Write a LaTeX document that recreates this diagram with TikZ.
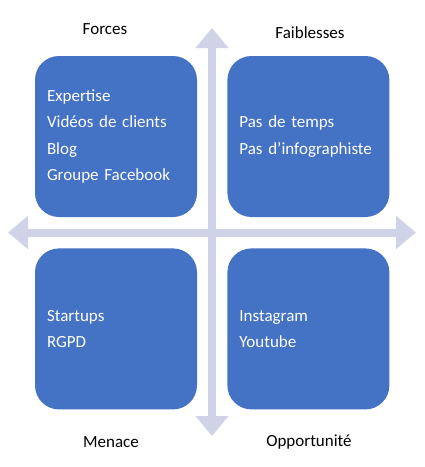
\documentclass[tikz,border=0pt]{standalone}
\usepackage{fontspec}
\setmainfont{Carlito}
\usepackage{xcolor}
\usetikzlibrary{positioning,arrows.meta}
\definecolor{boxblue}{RGB}{68,114,196}
\definecolor{axisgray}{RGB}{208,211,232}

\begin{document}
\begin{tikzpicture}[
    x=1pt, y=-1pt,
    box/.style={rectangle, rounded corners=24pt, fill=boxblue, text=white, minimum width=162pt, minimum height=161pt, text width=138pt, inner xsep=12pt, align=left, font=\fontsize{17}{26.5}\selectfont},
    title/.style={font=\fontsize{17}{20}\selectfont},
    axis/.style={draw=axisgray, line width=8pt, {Triangle[length=20pt,width=32pt]}-{Triangle[length=20pt,width=32pt]}}
]
    \useasboundingbox (0,0) rectangle (425,467);

    % axes
    \coordinate (axtop) at (212,28);
    \coordinate (axbot) at (212,436);
    \coordinate (axleft) at (8,232.5);
    \coordinate (axright) at (416,232.5);
    \draw[axis] (axbot) -- (axtop);
    \draw[axis] (axleft) -- (axright);

    % quadrants
    \node[box] (forces) at (116,136.5) {Expertise\\Vidéos de clients\\Blog\\Groupe Facebook};
    \node[box, right=30pt of forces] (faiblesses) {Pas de temps\\Pas d'infographiste};
    \node[box, below=31pt of forces] (menace) {Startups\\RGPD};
    \node[box, right=30pt of menace] (opportunite) {Instagram\\Youtube};

    % titles
    \node[title] (forcestitle) at (105,29) {Forces};
    \node[title] (faiblessestitle) at (310,33) {Faiblesses};
    \node[title] (menacetitle) at (111,442) {Menace};
    \node[title] (opportunitetitle) at (309,442) {Opportunité};
\end{tikzpicture}
\end{document}
